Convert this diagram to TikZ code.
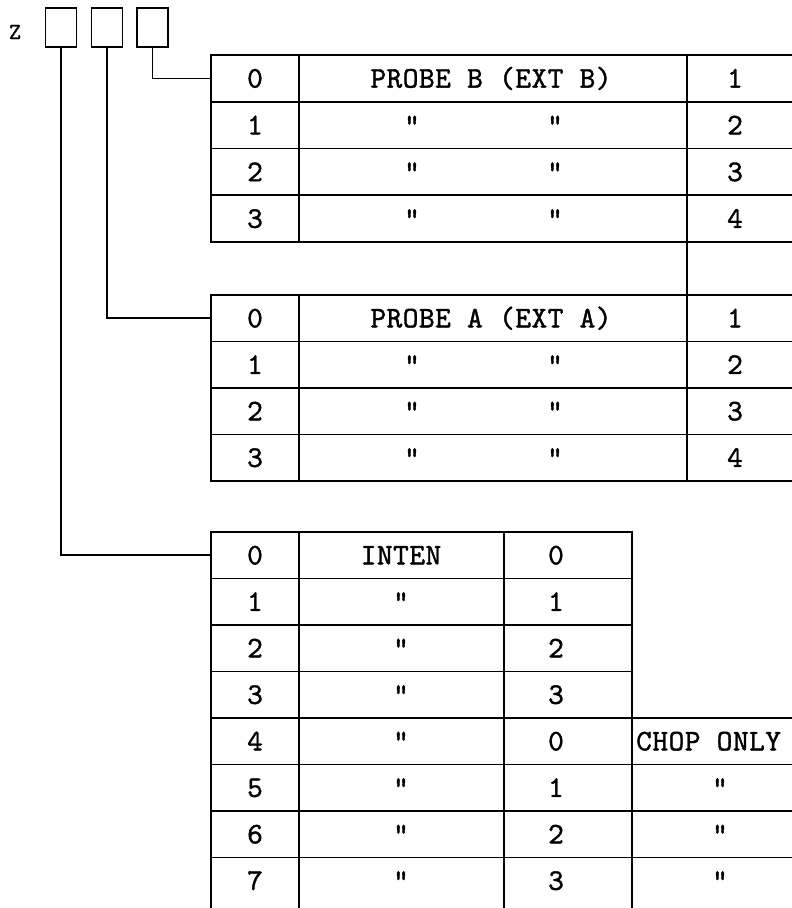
\documentclass[tikz,border=0pt]{standalone}
\usepackage{fontspec}
\newfontfamily\tabfont{lmmono10-regular}[Extension=.otf, LetterSpace=1.5, FakeBold=1.2]
\begin{document}
\begin{tikzpicture}[x=1pt,y=-1pt,
  cell/.style={draw, line width=1.6pt, rectangle, inner sep=0pt, outer sep=0pt, anchor=north west},
  zbox/.style={draw, line width=1.6pt, rectangle, inner sep=0pt, minimum width=31pt, minimum height=39pt},
  txt/.style={anchor=base, inner sep=0pt, font=\tabfont\fontsize{30}{32}\selectfont},
  conn/.style={line width=1.6pt}]
\useasboundingbox (0,0) rectangle (792,908);
\clip (0,0) rectangle (792,908);

% Z register boxes
\node[txt, font=\tabfont\fontsize{23}{24}\selectfont] (zlabel) at (15,39) {Z};
\node[zbox] (z1) at (61,27.5) {};
\node[zbox] (z2) at (107,27.5) {};
\node[zbox] (z3) at (152.5,27.5) {};

% Table B
\foreach \r in {0,...,3} {
  \pgfmathsetmacro\yy{55+\r*46.75}
  \pgfmathtruncatemacro\nn{\r+1}
  \node[cell, minimum width=88pt, minimum height=46.75pt] (B\r1) at (211,\yy) {};
  \node[cell, minimum width=388pt, minimum height=46.75pt] (B\r2) at (299,\yy) {};
  \node[cell, minimum width=130pt, minimum height=46.75pt] (B\r3) at (687,\yy) {};
  \node[txt] (Bd\r) at (255,\yy+32.6) {\r};
  \node[txt] (Bn\r) at (735,\yy+32.6) {\nn};
}
\node[txt] (Blabel) at (491,87.6) {PROBE B (EXT B)};
\foreach \r in {1,2,3} {
  \pgfmathsetmacro\yy{55+\r*46.75}
  \node[txt] (Bq\r a) at (412,\yy+32.6) {"};
  \node[txt] (Bq\r b) at (555,\yy+32.6) {"};
}

% Table A
\foreach \r in {0,...,3} {
  \pgfmathsetmacro\yy{295+\r*46.5}
  \pgfmathtruncatemacro\nn{\r+1}
  \node[cell, minimum width=88pt, minimum height=46.5pt] (A\r1) at (211,\yy) {};
  \node[cell, minimum width=388pt, minimum height=46.5pt] (A\r2) at (299,\yy) {};
  \node[cell, minimum width=130pt, minimum height=46.5pt] (A\r3) at (687,\yy) {};
  \node[txt] (Ad\r) at (255,\yy+32.4) {\r};
  \node[txt] (An\r) at (735,\yy+32.4) {\nn};
}
\node[txt] (Alabel) at (491,327.4) {PROBE A (EXT A)};
\foreach \r in {1,2,3} {
  \pgfmathsetmacro\yy{295+\r*46.5}
  \node[txt] (Aq\r a) at (412,\yy+32.4) {"};
  \node[txt] (Aq\r b) at (555,\yy+32.4) {"};
}

% Table C
\foreach \r in {0,...,7} {
  \pgfmathsetmacro\yy{532+\r*46.5}
  \pgfmathsetmacro\hh{ifthenelse(\r==7,60,46.5)}
  \pgfmathtruncatemacro\mm{mod(\r,4)}
  \node[cell, minimum width=88pt, minimum height=\hh pt] (C\r1) at (211,\yy) {};
  \node[cell, minimum width=205pt, minimum height=\hh pt] (C\r2) at (299,\yy) {};
  \node[cell, minimum width=128pt, minimum height=\hh pt] (C\r3) at (504,\yy) {};
  \node[txt] (Cd\r) at (255,\yy+32.4) {\r};
  \node[txt] (Cm\r) at (556,\yy+32.4) {\mm};
}
\foreach \r in {4,...,7} {
  \pgfmathsetmacro\yy{532+\r*46.5}
  \pgfmathsetmacro\hh{ifthenelse(\r==7,60,46.5)}
  \node[cell, minimum width=200pt, minimum height=\hh pt] (C\r4) at (632,\yy) {};
}
\node[txt] (Clabel) at (401,564.4) {INTEN};
\foreach \r in {1,...,7} {
  \pgfmathsetmacro\yy{532+\r*46.5}
  \node[txt] (Cq\r) at (401,\yy+32.4) {"};
}
\node[txt, anchor=base west] (chop) at (636,750.4) {CHOP ONLY};
\foreach \r in {5,6,7} {
  \pgfmathsetmacro\yy{532+\r*46.5}
  \node[txt] (Cc\r) at (720,\yy+32.4) {"};
}

% connectors
\draw[conn] (z3.south) |- (B01.west);
\draw[conn] (z2.south) |- (A01.west);
\draw[conn] (z1.south) |- (C01.west);
\draw[conn] (B33.south west) -- (A03.north west);
\end{tikzpicture}
\end{document}
